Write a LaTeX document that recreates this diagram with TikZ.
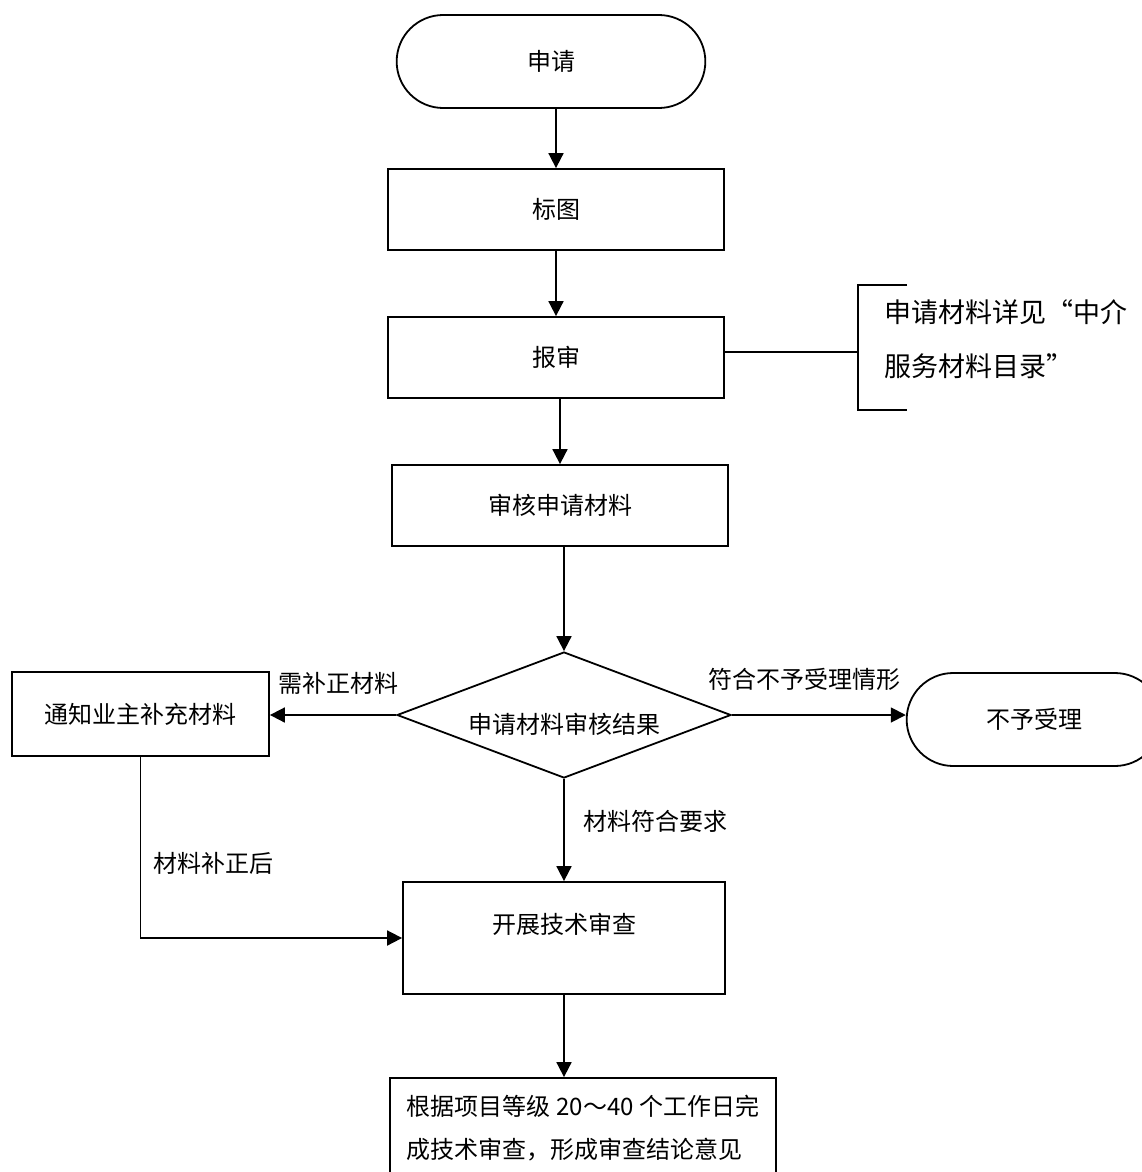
\documentclass[tikz,border=0pt]{standalone}
\usepackage{fontspec}
\setmainfont{Noto Sans CJK SC}
\usetikzlibrary{arrows.meta,shapes.geometric,shapes.misc}

\begin{document}
\begin{tikzpicture}[->,>={Triangle[length=7.5pt,width=7.5pt]},line width=0.9pt,
                    font=\fontsize{12}{14.4}\selectfont]
\tikzstyle{step_box}=[rectangle,draw=black,fill=white,minimum width=168pt,minimum height=40.5pt]
\tikzstyle{term_box}=[rounded rectangle,draw=black,fill=white,minimum width=161pt,minimum height=46.5pt]
\tikzstyle{decision_box}=[diamond,draw=black,fill=white,inner sep=0pt,aspect=2.65,minimum width=167pt,minimum height=63pt]
\tikzstyle{note_text}=[inner sep=0pt,align=left,font=\fontsize{13.5}{27}\selectfont]
\tikzstyle{note_brace}=[-,line width=1.4pt]
\tikzstyle{lbl}=[inner sep=0pt]

\useasboundingbox (0,0) rectangle (570.5pt,-586pt);

\node[term_box] (apply) at (275.5pt,-30.75pt) {申请};
\node[step_box] (map) at (278pt,-104.75pt) {标图};
\node[step_box] (report) at (278pt,-178.75pt) {报审};
\node[step_box] (check) at (280pt,-252.75pt) {审核申请材料};
\node[decision_box,text height=19pt] (decision) at (282pt,-357.5pt) {申请材料审核结果};
\node[step_box,minimum width=128.5pt,minimum height=42pt] (notify) at (70.25pt,-357pt) {通知业主补充材料};
\node[term_box,minimum width=134pt] (reject) at (517pt,-359.75pt) {不予受理};
\node[step_box,minimum width=161pt,minimum height=56pt,text depth=14.5pt] (tech) at (282pt,-469pt) {开展技术审查};
\node[step_box,minimum width=193pt,minimum height=50.5pt,align=left,
      font=\fontsize{12}{21.5}\selectfont] (final) at (291.5pt,-564.25pt)
      {根据项目等级 20～40 个工作日完\\成技术审查，形成审查结论意见};

% note on the materials
\coordinate (bracket) at (429pt,-176pt);
\node[note_text,anchor=west] (remark) at (442pt,-169.5pt) {申请材料详见“中介\\服务材料目录”};
\draw[-,line width=0.8pt] (report.east |- bracket) -- (bracket);
\draw[note_brace] ([shift={(24.5pt,33.5pt)}]bracket) -- ++(-24.5pt,0) -- ++(0,-62.5pt) -- ++(24.5pt,0);

\draw (apply.south -| map.north) -- (map.north);
\draw (map) -- (report);
\draw (check.north |- report.south) -- (check);
\draw (decision.north |- check.south) -- (decision);
\draw (decision.west) -- node[lbl,pos=0.46,above=10pt] {需补正材料} (decision.west -| notify.east);
\draw (decision.east) -- node[lbl,pos=0.42,above=12pt] {符合不予受理情形} (decision.east -| reject.west);
\draw (decision.south) -- node[lbl,pos=0.42,right=9.5pt] {材料符合要求} (decision.south |- tech.north);
\draw (notify.south) |- node[lbl,pos=0.295,right=6pt] {材料补正后} (tech.west);
\draw (tech) -- (tech |- final.north);
\end{tikzpicture}
\end{document}
